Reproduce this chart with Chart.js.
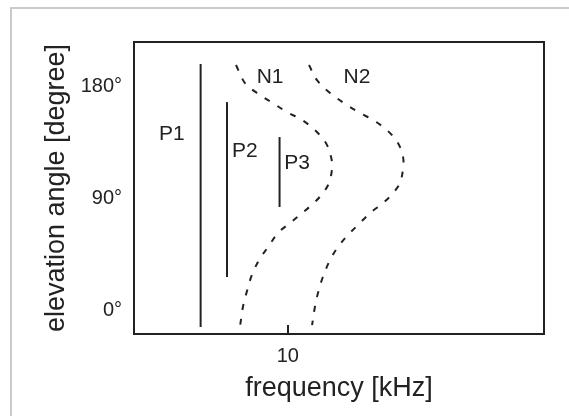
<!DOCTYPE html>
<html>
<head>
<meta charset="utf-8">
<script src="https://cdn.jsdelivr.net/npm/chart.js@4/dist/chart.umd.min.js"></script>
<style>
  html, body { margin: 0; padding: 0; background: #fff; }
  #caixa { position: relative; width: 569px; height: 416px; overflow: hidden; }
  #borda { position: absolute; left: 10px; top: 7px; right: -10px; bottom: -10px;
           border-top: 2px solid #cacaca; border-left: 2px solid #cacaca; }
  canvas { position: absolute; left: 0; top: 0; }
</style>
</head>
<body>
<div id="caixa">
  <div id="borda"></div>
  <canvas id="grafico" width="569" height="416"></canvas>
</div>
<script>
// ticks
const xTicks = [10];
const yTicks = [0, 90, 180];

// linhas verticais P1..P3 (kHz, graus)
const p1 = [{ x: 6.6, y: -13.7 }, { x: 6.6, y: 197.7 }];
const p2 = [{ x: 7.63, y: 26.5 }, { x: 7.63, y: 167.1 }];
const p3 = [{ x: 9.68, y: 82.8 }, { x: 9.68, y: 139 }];

// curvas tracejadas N1, N2
const n1 = [
  { x: 7.98, y: 196.9 }, { x: 8.33, y: 182.4 }, { x: 8.8, y: 174.4 },
  { x: 9.42, y: 166.3 }, { x: 9.97, y: 159.1 }, { x: 10.56, y: 152.7 },
  { x: 11.06, y: 144.6 }, { x: 11.49, y: 134.2 }, { x: 11.69, y: 122.9 },
  { x: 11.73, y: 114.1 }, { x: 11.61, y: 102.1 }, { x: 11.37, y: 94 },
  { x: 11.06, y: 86.8 }, { x: 10.56, y: 77.9 }, { x: 10.09, y: 69.9 },
  { x: 9.62, y: 61.9 }, { x: 9.23, y: 50.6 }, { x: 8.88, y: 40.2 },
  { x: 8.6, y: 28.1 }, { x: 8.41, y: 15.3 }, { x: 8.25, y: 2.4 },
  { x: 8.14, y: -12.9 },
];
const n2 = [
  { x: 10.83, y: 196.9 }, { x: 11.14, y: 184.8 }, { x: 11.65, y: 174.4 },
  { x: 12.31, y: 164.7 }, { x: 12.82, y: 158.3 }, { x: 13.33, y: 152.7 },
  { x: 13.87, y: 144.6 }, { x: 14.3, y: 134.2 }, { x: 14.5, y: 122.9 },
  { x: 14.5, y: 114.1 }, { x: 14.38, y: 102.1 }, { x: 14.11, y: 94 },
  { x: 13.72, y: 86 }, { x: 13.21, y: 77.9 }, { x: 12.82, y: 69.9 },
  { x: 12.35, y: 60.3 }, { x: 11.96, y: 50.6 }, { x: 11.65, y: 40.2 },
  { x: 11.37, y: 26.5 }, { x: 11.18, y: 13.7 }, { x: 11.06, y: 2.4 },
  { x: 10.95, y: -12.1 },
];

// rótulos
const rotulos = ["P1", "P2", "P3", "N1", "N2"];
const rotuloX = [5.48, 8.33, 10.36, 9.31, 12.7];
const rotuloY = [141.4, 127.8, 118.1, 187.2, 187.2];

const fonte = "'Liberation Sans', Arial, Helvetica, sans-serif";
const cor = "#222";

function solida(data) {
  return { data: data, borderColor: cor, borderWidth: 2, pointRadius: 0, showLine: true, tension: 0 };
}
function tracejada(data) {
  return { data: data, borderColor: cor, borderWidth: 2, pointRadius: 0, showLine: true,
           tension: 0.35, borderDash: [6, 9], borderCapStyle: "butt" };
}

const moldura = {
  id: "moldura",
  afterDraw(chart) {
    const { ctx, chartArea: a, scales } = chart;
    ctx.save();
    ctx.strokeStyle = cor;
    ctx.lineWidth = 2;
    ctx.setLineDash([]);
    ctx.strokeRect(a.left, a.top, a.right - a.left, a.bottom - a.top);
    xTicks.forEach((v) => {
      const px = Math.round(scales.x.getPixelForValue(v));
      ctx.beginPath();
      ctx.moveTo(px, a.bottom);
      ctx.lineTo(px, a.bottom - 9);
      ctx.stroke();
    });
    ctx.fillStyle = cor;
    ctx.font = "21px " + fonte;
    ctx.textAlign = "center";
    ctx.textBaseline = "middle";
    rotulos.forEach((t, i) => {
      ctx.fillText(t, scales.x.getPixelForValue(rotuloX[i]), scales.y.getPixelForValue(rotuloY[i]));
    });
    ctx.restore();
  },
};

new Chart(document.getElementById("grafico"), {
  type: "scatter",
  data: {
    datasets: [solida(p1), solida(p2), solida(p3), tracejada(n1), tracejada(n2)],
  },
  options: {
    responsive: false,
    animation: false,
    layout: { padding: { top: 42, right: 25, left: 0, bottom: 0 } },
    plugins: { legend: { display: false }, tooltip: { enabled: false } },
    scales: {
      x: {
        type: "linear",
        min: 4,
        max: 20,
        grid: { display: false, drawTicks: false },
        border: { display: false },
        afterBuildTicks: (s) => { s.ticks = xTicks.map((v) => ({ value: v })); },
        afterFit: (s) => { s.height = 82; },
        ticks: { color: cor, font: { family: fonte, size: 20 }, padding: 10 },
        title: {
          display: true,
          text: "frequency [kHz]",
          color: cor,
          font: { family: fonte, size: 27 },
          padding: { top: 0, bottom: 11 },
        },
      },
      y: {
        type: "linear",
        min: -19.3,
        max: 215.4,
        grid: { display: false, drawTicks: false },
        border: { display: false },
        afterBuildTicks: (s) => { s.ticks = yTicks.map((v) => ({ value: v })); },
        afterFit: (s) => { s.width = 134; },
        ticks: { color: cor, font: { family: fonte, size: 20 }, padding: 12, callback: (v) => v + "°" },
        title: {
          display: true,
          text: "elevation angle [degree]",
          color: cor,
          font: { family: fonte, size: 27 },
          padding: { top: 40, bottom: 0 },
        },
      },
    },
  },
  plugins: [moldura],
});
</script>
</body>
</html>
